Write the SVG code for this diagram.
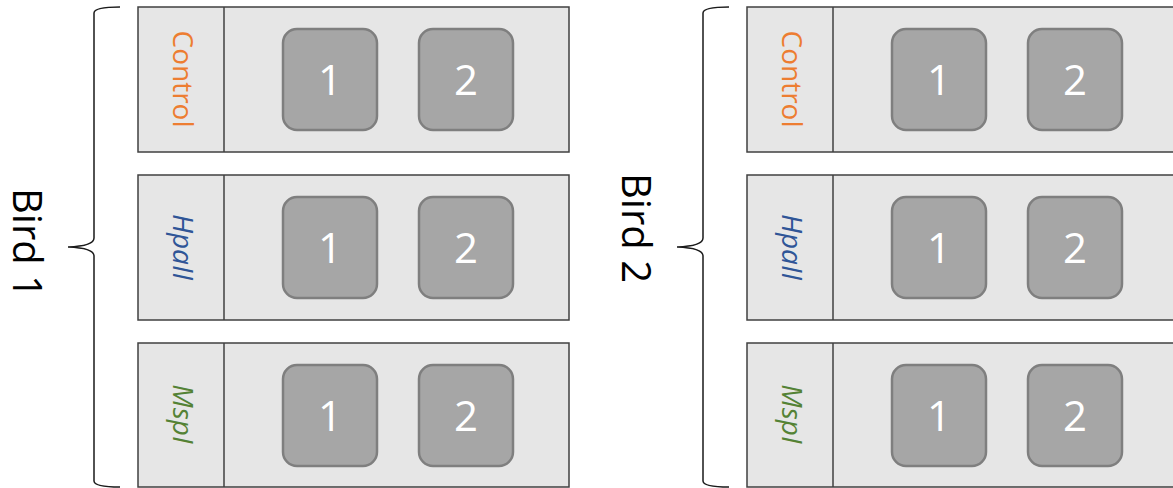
<svg xmlns="http://www.w3.org/2000/svg" width="1173" height="488" viewBox="0 0 1173 488">
<style>
.panel{fill:#e6e6e6;stroke:#404040;stroke-width:1.5}
.div{stroke:#404040;stroke-width:1.5}
.box{fill:#a6a6a6;stroke:#7f7f7f;stroke-width:2.5}
.num{font-family:"Open Sans","Liberation Sans",sans-serif;font-size:42px;fill:#ffffff;text-anchor:middle}
.lab{font-family:"Open Sans","Liberation Sans",sans-serif;font-size:28px;text-anchor:middle}
.bird{font-family:"Open Sans","Liberation Sans",sans-serif;font-size:40px;fill:#000;text-anchor:middle}
.brace{fill:none;stroke:#1a1a1a;stroke-width:1.5}
</style>
<rect width="1173" height="488" fill="#ffffff"/>
<defs>
<g id="row">
<rect class="box" x="283" y="29" width="94" height="101" rx="14"/>
<rect class="box" x="419" y="29" width="94" height="101" rx="14"/>
<text class="num" x="330" y="95">1</text>
<text class="num" x="466" y="95">2</text>
</g>
</defs>
<g id="braces">
<path class="brace" d="M120,7 Q94,7 94,13 L94,238 Q94,246 68,247 Q94,248 94,256 L94,481 Q94,487 120,487"/>
<path class="brace" d="M729,7 Q703,7 703,13 L703,238 Q703,246 677,247 Q703,248 703,256 L703,481 Q703,487 729,487"/>
</g>
<g id="bird1">
<text class="bird" transform="translate(13,243) rotate(90)">Bird 1</text>
<g id="b1-control">
<rect class="panel" x="138" y="7" width="431" height="145"/>
<line class="div" x1="224" y1="7" x2="224" y2="152"/>
<text class="lab" fill="#ed7d31" transform="translate(173,79) rotate(90)">Control</text>
<use href="#row"/>
</g>
<g id="b1-hpaii">
<rect class="panel" x="138" y="175" width="431" height="145"/>
<line class="div" x1="224" y1="175" x2="224" y2="320"/>
<text class="lab" fill="#2f5597" font-style="italic" transform="translate(173,247) rotate(90)">HpaII</text>
<use href="#row" y="168"/>
</g>
<g id="b1-mspi">
<rect class="panel" x="138" y="343" width="431" height="144"/>
<line class="div" x1="224" y1="343" x2="224" y2="487"/>
<text class="lab" fill="#548235" font-style="italic" transform="translate(173,414) rotate(90)">MspI</text>
<use href="#row" y="336"/>
</g>
</g>
<g id="bird2">
<text class="bird" transform="translate(622,228) rotate(90)">Bird 2</text>
<g id="b2-control">
<rect class="panel" x="747" y="7" width="440" height="145"/>
<line class="div" x1="833" y1="7" x2="833" y2="152"/>
<text class="lab" fill="#ed7d31" transform="translate(782,79) rotate(90)">Control</text>
<use href="#row" x="609"/>
</g>
<g id="b2-hpaii">
<rect class="panel" x="747" y="175" width="440" height="145"/>
<line class="div" x1="833" y1="175" x2="833" y2="320"/>
<text class="lab" fill="#2f5597" font-style="italic" transform="translate(782,247) rotate(90)">HpaII</text>
<use href="#row" x="609" y="168"/>
</g>
<g id="b2-mspi">
<rect class="panel" x="747" y="343" width="440" height="144"/>
<line class="div" x1="833" y1="343" x2="833" y2="487"/>
<text class="lab" fill="#548235" font-style="italic" transform="translate(782,414) rotate(90)">MspI</text>
<use href="#row" x="609" y="336"/>
</g>
</g>
</svg>
